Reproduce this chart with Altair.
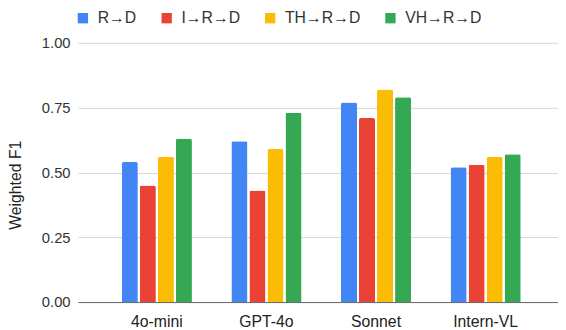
import altair as alt
import pandas as pd

models = ["4o-mini", "GPT-4o", "Sonnet", "Intern-VL"]
series = ["R→D", "I→R→D", "TH→R→D", "VH→R→D"]
colors = ["#4285F4", "#EA4335", "#FBBC04", "#34A853"]
r_d = [0.54, 0.62, 0.77, 0.52]
i_r_d = [0.45, 0.43, 0.71, 0.53]
th_r_d = [0.56, 0.59, 0.82, 0.56]
vh_r_d = [0.63, 0.73, 0.79, 0.57]

rows = []
for vals, s in zip([r_d, i_r_d, th_r_d, vh_r_d], series):
    for m, v in zip(models, vals):
        rows.append({"model": m, "series": s, "value": v})
df = pd.DataFrame(rows)

FONT = "Liberation Sans"

chart = alt.Chart(df).mark_bar(
    cornerRadiusTopLeft=2, cornerRadiusTopRight=2
).encode(
    x=alt.X("model:N", sort=models, title=None,
            scale=alt.Scale(paddingInner=0.36, paddingOuter=0.37, align=0.54),
            axis=alt.Axis(labelAngle=0, ticks=False, domainColor="#666666",
                          labelFont=FONT, labelFontSize=16, labelColor="#222222",
                          labelPadding=12)),
    xOffset=alt.XOffset("series:N", sort=series,
                        scale=alt.Scale(paddingInner=0.11, paddingOuter=0)),
    y=alt.Y("value:Q", title="Weighted F1",
            scale=alt.Scale(domain=[0, 1]),
            axis=alt.Axis(values=[0, 0.25, 0.5, 0.75, 1.0], format=".2f",
                          ticks=False, domain=False, gridColor="#d6d6d6",
                          labelFont=FONT, labelFontSize=15, labelColor="#333333",
                          labelPadding=8, titleFont=FONT, titleFontSize=16,
                          titleFontWeight="normal", titleColor="#222222",
                          titleX=-55, titleY=144, titleAngle=270,
                          titleAlign="center", titleBaseline="bottom")),
    color=alt.Color("series:N", sort=series,
                    scale=alt.Scale(domain=series, range=colors),
                    legend=alt.Legend(title=None, orient="none", direction="horizontal",
                                      columns=4, legendX=-3, legendY=-33,
                                      symbolType="square", symbolSize=110,
                                      symbolStrokeWidth=0, symbolOpacity=1,
                                      labelFont=FONT, labelFontSize=16,
                                      labelColor="#333333", labelOffset=7,
                                      columnPadding=22)),
).properties(
    width=487, height=263,
    autosize=alt.AutoSizeParams(type="none"),
    padding={"left": 71, "top": 33, "right": 0, "bottom": 26},
).configure_view(stroke=None)

chart.save("out.html", embed_options={"renderer": "svg", "actions": False})
